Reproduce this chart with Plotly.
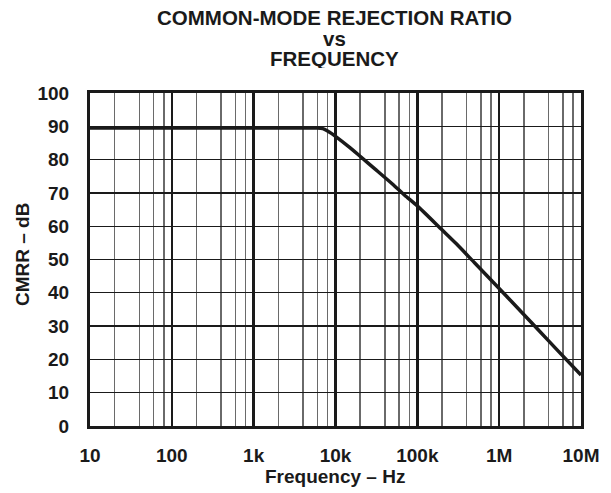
import plotly.graph_objects as go

# ---- data ----
freq_hz = [10, 100, 1000, 5000, 6000, 7000, 8000, 9000, 10000, 15000, 20000,
           30000, 50000, 70000, 100000, 200000, 300000, 500000,
           1e6, 2e6, 3e6, 5e6, 1e7]
cmrr_db = [89.5, 89.5, 89.5, 89.5, 89.5, 89.3, 88.6, 87.8, 87.0, 83.6, 81.0,
           77.3, 72.6, 69.3, 66.1, 58.9, 54.7, 49.0,
           41.3, 33.5, 28.9, 23.1, 15.3]

x_tick_vals = [10, 100, 1000, 10000, 100000, 1e6, 1e7]
x_tick_text = ["10", "100", "1k", "10k", "100k", "1M", "10M"]
y_tick_vals = [0, 10, 20, 30, 40, 50, 60, 70, 80, 90, 100]
minor_mult = [2, 4, 6, 8]
x_minor_vals = [m * d for d in [10, 100, 1000, 10000, 100000, 1e6] for m in minor_mult]

title_lines = ["COMMON-MODE REJECTION RATIO", "vs", "FREQUENCY"]
x_title = "Frequency – Hz"
y_title = "CMRR – dB"

FONT = "Liberation Sans, Arial, sans-serif"

fig = go.Figure()
fig.add_trace(go.Scatter(
    x=freq_hz, y=cmrr_db, mode="lines",
    line=dict(color="#1a1a1a", width=3.5, shape="spline", smoothing=0.6),
    hoverinfo="skip", showlegend=False,
))

fig.update_layout(
    width=611, height=493,
    margin=dict(l=90, r=30, t=93, b=67),
    paper_bgcolor="white", plot_bgcolor="white",
    font=dict(family=FONT, color="#1a1a1a"),
    showlegend=False,
)

fig.update_xaxes(
    type="log", range=[1, 7],
    tickvals=x_tick_vals, ticktext=x_tick_text,
    tickfont=dict(family=FONT, size=19, color="#1a1a1a", weight="bold"),
    ticks="", ticklabelstandoff=10,
    showgrid=True, gridcolor="#1a1a1a", gridwidth=2.5,
    minor=dict(tickvals=x_minor_vals, showgrid=True, gridcolor="#6a6a6a",
               gridwidth=1.5, ticks=""),
    showline=True, linecolor="#1a1a1a", linewidth=3, mirror=True,
    zeroline=False,
)
fig.update_yaxes(
    range=[0, 100],
    tickvals=y_tick_vals,
    tickfont=dict(family=FONT, size=19, color="#1a1a1a", weight="bold"),
    ticks="", ticklabelstandoff=14,
    showgrid=True, gridcolor="#1a1a1a", gridwidth=1.4,
    showline=True, linecolor="#1a1a1a", linewidth=3, mirror=True,
    zeroline=False,
)

H = 333.0
W = 491.0
def py(ypix):
    return (426 - ypix) / H
def px(xpix):
    return (xpix - 90) / W

title_y_centers = [17.0, 38.0, 58.7]
for txt, yc in zip(title_lines, title_y_centers):
    fig.add_annotation(
        text=f"<b>{txt}</b>", xref="paper", yref="paper",
        x=px(334), y=py(yc), xanchor="center", yanchor="middle",
        height=19, borderpad=0,
        showarrow=False, font=dict(family=FONT, size=20.5, color="#1a1a1a"),
    )

fig.add_annotation(
    text=f"<b>{x_title}</b>", xref="paper", yref="paper",
    x=px(335), y=py(476.5), xanchor="center", yanchor="middle",
    showarrow=False, font=dict(family=FONT, size=19, color="#1a1a1a"),
)
fig.add_annotation(
    text=f"<b>{y_title}</b>", xref="paper", yref="paper",
    x=px(22), y=py(255), xanchor="center", yanchor="middle", textangle=-90,
    showarrow=False, font=dict(family=FONT, size=19, color="#1a1a1a"),
)

# remove the page's default body margin so the figure fills the window exactly
fig.write_html(
    "out.html",
    config={"displayModeBar": False, "staticPlot": True},
    post_script="document.body.style.margin='0';document.body.style.overflow='hidden';",
)
